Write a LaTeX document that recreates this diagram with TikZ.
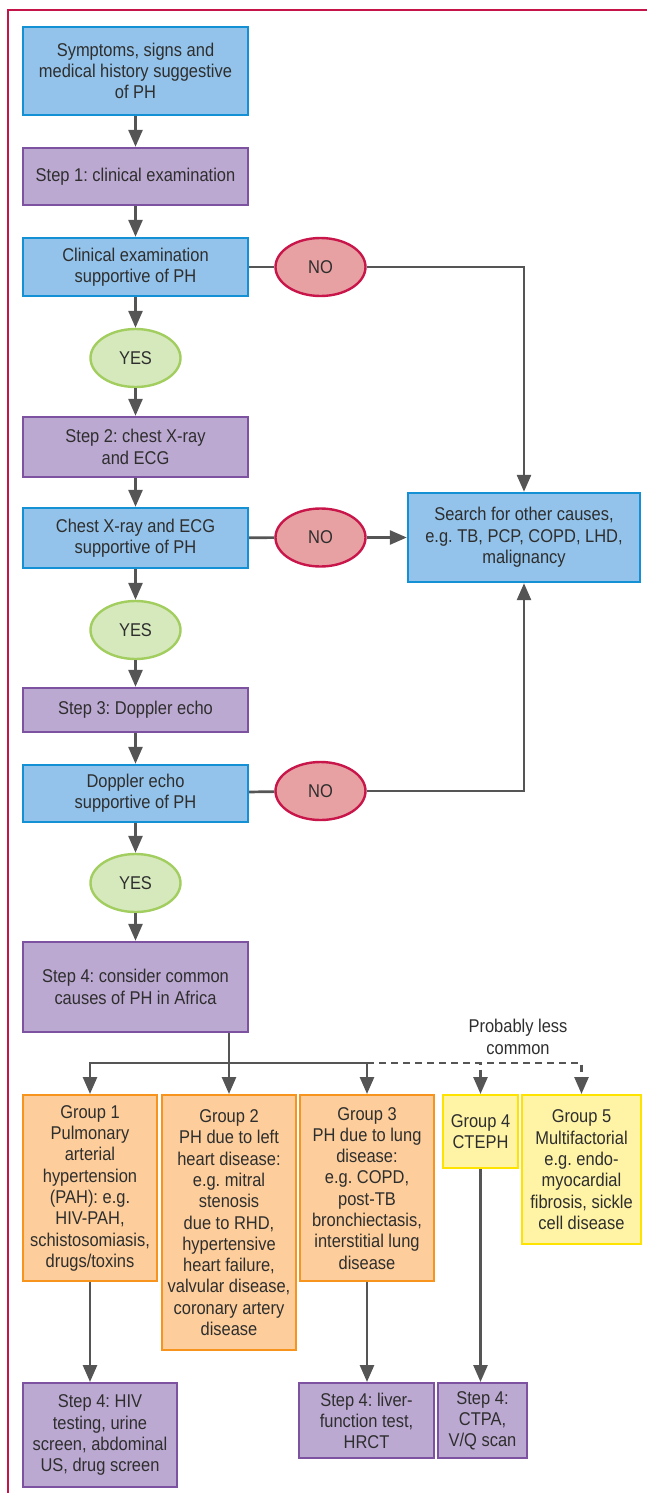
\documentclass[tikz,border=0pt]{standalone}
\usepackage{fontspec}
\setmainfont{Liberation Sans}[FakeStretch=0.89]
\usetikzlibrary{arrows.meta,shapes.geometric}
\frenchspacing
\definecolor{framec}{HTML}{C4144A}
\definecolor{bluef}{HTML}{93C3EA}
\definecolor{bluel}{HTML}{1490D4}
\definecolor{purf}{HTML}{BCA9D2}
\definecolor{purl}{HTML}{7D52A1}
\definecolor{grnf}{HTML}{D6E9BD}
\definecolor{grnl}{HTML}{A2CD5F}
\definecolor{redf}{HTML}{E8A1A2}
\definecolor{redl}{HTML}{C8164B}
\definecolor{orgf}{HTML}{FDCE9B}
\definecolor{orgl}{HTML}{F7941E}
\definecolor{yelf}{HTML}{FFF4A6}
\definecolor{yell}{HTML}{FFE300}
\definecolor{linec}{HTML}{555555}
\definecolor{txtc}{HTML}{2E2E2E}
\tikzset{
  base/.style={draw, line width=2.4pt, inner sep=0pt, align=center, text=txtc,
    font=\fontsize{18.5}{21.3}\selectfont\frenchspacing},
  bluebox/.style={base, rectangle, fill=bluef, draw=bluel},
  purbox/.style={base, rectangle, fill=purf, draw=purl},
  orgbox/.style={base, rectangle, fill=orgf, draw=orgl},
  yelbox/.style={base, rectangle, fill=yelf, draw=yell},
  yesell/.style={base, ellipse, fill=grnf, draw=grnl, minimum width=90pt, minimum height=58pt},
  noell/.style={base, ellipse, fill=redf, draw=redl, minimum width=90pt, minimum height=58pt},
  conn/.style={draw=linec, line width=2.7pt},
  arr/.style={conn, -{Triangle[length=17pt,width=14pt]}},
  dashln/.style={dash pattern=on 7pt off 5pt}
}
\begin{document}
\begin{tikzpicture}[x=1pt,y=-1pt]
\useasboundingbox (0,0) rectangle (647,1493);
\draw[framec, line width=2pt] (647,10) -- (8,10) -- (8,1493);

\node[bluebox, minimum width=225pt, minimum height=88pt] (sym) at (135.5,71) {Symptoms, signs and\\medical history suggestive\\of PH};
\node[purbox, minimum width=225pt, minimum height=57pt] (s1) at (135.5,176.5) {Step 1: clinical examination};
\node[bluebox, minimum width=225pt, minimum height=58pt] (clin) at (135.5,267) {Clinical examination\\supportive of PH};
\node[yesell] (yes1) at (135.5,358) {YES};
\node[noell] (no1) at (320.5,267) {NO};
\node[purbox, minimum width=225pt, minimum height=60pt] (s2) at (135.5,447) {Step 2: chest X-ray\\and ECG};
\node[bluebox, minimum width=225pt, minimum height=60pt] (chest) at (135.5,538) {Chest X-ray and ECG\\supportive of PH};
\node[noell] (no2) at (320.5,537.5) {NO};
\node[bluebox, minimum width=232pt, minimum height=89pt] (search) at (524,537.5) {Search for other causes,\\e.g. TB, PCP, COPD, LHD,\\malignancy};
\node[yesell] (yes2) at (135.5,630) {YES};
\node[purbox, minimum width=225pt, minimum height=44pt] (s3) at (135.5,710) {Step 3: Doppler echo};
\node[bluebox, minimum width=225pt, minimum height=57pt] (dop) at (135.5,793.5) {Doppler echo\\supportive of PH};
\node[noell] (no3) at (320.5,791) {NO};
\node[yesell] (yes3) at (135.5,883) {YES};
\node[purbox, minimum width=225pt, minimum height=90pt] (s4) at (135.5,987) {Step 4: consider common\\causes of PH in Africa};

\node[text=txtc, align=center, inner sep=0pt, font=\fontsize{18.5}{21.3}\selectfont] (less) at (518,1037) {Probably less\\common};

\node[orgbox, minimum width=134pt, minimum height=186pt, anchor=north] (g1) at (90,1094) {Group 1\\Pulmonary\\arterial\\hypertension\\(PAH): e.g.\\HIV-PAH,\\schistosomiasis,\\drugs/toxins};
\node[orgbox, minimum width=134pt, minimum height=255pt, anchor=north] (g2) at (229,1094) {Group 2\\PH due to left\\heart disease:\\e.g. mitral\\stenosis\\due to RHD,\\hypertensive\\heart failure,\\valvular disease,\\coronary artery\\disease};
\node[orgbox, minimum width=134pt, minimum height=186pt, anchor=north] (g3) at (367,1094) {Group 3\\PH due to lung\\disease:\\e.g. COPD,\\post-TB\\bronchiectasis,\\interstitial lung\\disease};
\node[yelbox, minimum width=75pt, minimum height=73pt, anchor=north] (g4) at (480.5,1094) {Group 4\\CTEPH};
\node[yelbox, minimum width=119pt, minimum height=149pt, anchor=north] (g5) at (581.5,1094) {Group 5\\Multifactorial\\e.g. endo-\\myocardial\\fibrosis, sickle\\cell disease};

\node[purbox, minimum width=154pt, minimum height=104pt, anchor=north] (hiv) at (100,1382) {Step 4: HIV\\testing, urine\\screen, abdominal\\US, drug screen};
\node[purbox, minimum width=135pt, minimum height=75pt, anchor=north] (liver) at (366.5,1382) {Step 4: liver-\\function test,\\HRCT};
\node[purbox, minimum width=89pt, minimum height=75pt, anchor=north] (ctpa) at (482.5,1382) {Step 4:\\CTPA,\\V/Q scan};

% connectors
\draw[arr] (sym) -- (s1);
\draw[arr] (s1) -- (clin);
\draw[arr] (clin) -- (yes1);
\draw[arr] (yes1) -- (s2);
\draw[arr] (s2) -- (chest);
\draw[arr] (chest) -- (yes2);
\draw[arr] (yes2) -- (s3);
\draw[arr] (s3) -- (dop);
\draw[arr] (dop) -- (yes3);
\draw[arr] (yes3) -- (s4);
\draw[conn] (clin) -- (no1);
\draw[conn] (chest) -- (no2);
\draw[conn] (dop) -- (no3);
\draw[arr] (no1) -| (search);
\draw[arr] (no2) -- (search);
\draw[arr] (no3) -| (search);

\coordinate (bj) at (229,1063);
\coordinate (bj3) at (367,1063);
\draw[conn] (s4.south -| bj) -- (bj);
\draw[arr] (bj) -| (g1);
\draw[arr] (bj) -- (g2);
\draw[arr] (bj) -| (g3);
\draw[arr, dashln] (bj3) -| (g4);
\draw[arr, dashln] (bj3) -| (g5);

\draw[arr] (g1.south) -- (g1.south |- hiv.north);
\draw[arr] (g3.south) -- (g3.south |- liver.north);
\draw[arr] (g4.south) -- (g4.south |- ctpa.north);
\end{tikzpicture}
\end{document}
